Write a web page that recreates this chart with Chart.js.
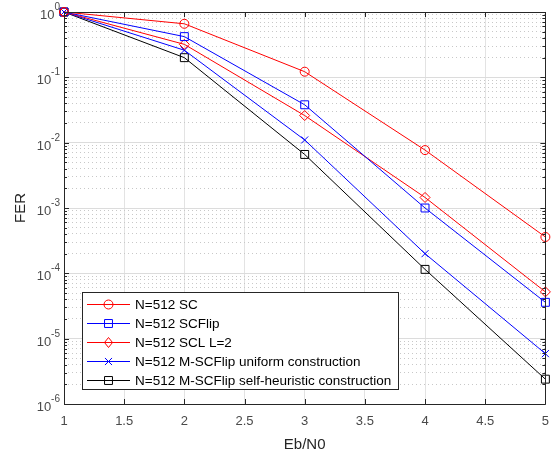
<!DOCTYPE html>
<html>
<head>
<meta charset="utf-8">
<script src="https://cdn.jsdelivr.net/npm/chart.js@4.4.0/dist/chart.umd.min.js"></script>
<style>
  html, body { margin: 0; padding: 0; background: #fff; }
  #wrap { width: 559px; height: 454px; }
</style>
</head>
<body>
<div id="wrap"><canvas id="grafica"></canvas></div>
<script>
'use strict';

// datos
const ebN0 = [1, 2, 3, 4, 5];
const ferSC = [1, 0.66, 0.122, 0.0077, 3.6e-4];
const ferSCFlip = [1, 0.42, 0.038, 1.0e-3, 3.6e-5];
const ferSCL = [1, 0.32, 0.026, 1.45e-3, 5.2e-5];
const ferUniform = [1, 0.26, 0.011, 2.0e-4, 5.9e-6];
const ferSelf = [1, 0.20, 0.0066, 1.15e-4, 2.4e-6];

const nombres = [
    'N=512 SC',
    'N=512 SCFlip',
    'N=512 SCL L=2',
    'N=512 M-SCFlip uniform construction',
    'N=512 M-SCFlip self-heuristic construction'
];
const xTicks = [1, 1.5, 2, 2.5, 3, 3.5, 4, 4.5, 5];
const yExponentes = [-6, -5, -4, -3, -2, -1, 0];

const FUENTE = '"Liberation Sans", Arial, Helvetica, sans-serif';
const EJE = '#262626';
const TEXTO = '#4a4a4a';
const ROJO = '#ff0000';
const AZUL = '#0000ff';
const NEGRO = '#000000';

function serie(label, valores, color, estilo, radio) {
    return {
        label: label,
        data: ebN0.map((x, i) => ({ x: x, y: valores[i] })),
        borderColor: color,
        backgroundColor: 'rgba(0,0,0,0)',
        borderWidth: 1,
        pointStyle: estilo,
        pointRadius: radio,
        pointBorderWidth: 1,
        pointBorderColor: color,
        pointBackgroundColor: 'rgba(0,0,0,0)',
        fill: false,
        tension: 0,
        clip: false
    };
}

// todos los valores 1..9 x 10^k para la rejilla logaritmica
const yRejilla = [];
yExponentes.forEach(e => {
    for (let m = 1; m <= 9; m++) {
        if (e === 0 && m > 1) break;
        yRejilla.push(m * Math.pow(10, e));
    }
});
function esMayor(v) {
    const l = Math.log10(v);
    return Math.abs(l - Math.round(l)) < 1e-9;
}

function dibujarMarcador(ctx, estilo, x, y, r) {
    ctx.beginPath();
    if (estilo === 'circle') {
        ctx.arc(x, y, r, 0, Math.PI * 2);
    } else if (estilo === 'rect') {
        const s = Math.SQRT1_2 * r;
        ctx.rect(x - s, y - s, 2 * s, 2 * s);
    } else if (estilo === 'rectRot') {
        ctx.moveTo(x, y - r);
        ctx.lineTo(x + r * 0.8, y);
        ctx.lineTo(x, y + r);
        ctx.lineTo(x - r * 0.8, y);
        ctx.closePath();
    } else if (estilo === 'crossRot') {
        const s = Math.SQRT1_2 * r;
        ctx.moveTo(x - s, y - s); ctx.lineTo(x + s, y + s);
        ctx.moveTo(x - s, y + s); ctx.lineTo(x + s, y - s);
    }
    ctx.stroke();
}

// marco, marcas interiores, etiquetas 10^k y leyenda
const ejesMatlab = {
    id: 'ejesMatlab',
    afterDatasetsDraw(chart) {
        const { ctx, chartArea: a, scales } = chart;
        const sx = scales.x, sy = scales.y;
        ctx.save();
        ctx.strokeStyle = EJE;
        ctx.lineWidth = 1;
        ctx.beginPath();
        ctx.rect(Math.round(a.left) + 0.5, Math.round(a.top) + 0.5,
                 Math.round(a.right - a.left), Math.round(a.bottom - a.top));
        ctx.stroke();

        ctx.beginPath();
        xTicks.forEach(v => {
            const px = Math.round(sx.getPixelForValue(v)) + 0.5;
            ctx.moveTo(px, a.bottom); ctx.lineTo(px, a.bottom - 5);
            ctx.moveTo(px, a.top); ctx.lineTo(px, a.top + 5);
        });
        yRejilla.forEach(v => {
            const py = Math.round(sy.getPixelForValue(v)) + 0.5;
            const largo = esMayor(v) ? 5 : 3;
            ctx.moveTo(a.left, py); ctx.lineTo(a.left + largo, py);
            ctx.moveTo(a.right, py); ctx.lineTo(a.right - largo, py);
        });
        ctx.stroke();

        ctx.fillStyle = TEXTO;
        ctx.textBaseline = 'alphabetic';
        yExponentes.forEach(e => {
            const py = sy.getPixelForValue(Math.pow(10, e));
            ctx.font = '10px ' + FUENTE;
            const exp = String(e);
            const wExp = ctx.measureText(exp).width;
            ctx.textAlign = 'left';
            const xExp = a.left - 4 - wExp;
            ctx.fillText(exp, xExp, py - 2);
            ctx.font = '13px ' + FUENTE;
            ctx.textAlign = 'right';
            ctx.fillText('10', xExp, py + 7);
        });
        ctx.restore();
    },
    afterDraw(chart) {
        const { ctx } = chart;
        const caja = { x: 82, y: 292, w: 316, h: 97 };
        ctx.save();
        ctx.fillStyle = '#fff';
        ctx.fillRect(caja.x, caja.y, caja.w, caja.h);
        ctx.strokeStyle = EJE;
        ctx.lineWidth = 1;
        ctx.strokeRect(caja.x + 0.5, caja.y + 0.5, caja.w, caja.h);
        ctx.font = '13.5px ' + FUENTE;
        ctx.textBaseline = 'middle';
        ctx.textAlign = 'left';
        chart.data.datasets.forEach((ds, i) => {
            const y = Math.round(caja.y + 12 + i * 19.1) + 0.5;
            ctx.strokeStyle = ds.borderColor;
            ctx.beginPath();
            ctx.moveTo(87, y); ctx.lineTo(130, y);
            ctx.stroke();
            dibujarMarcador(ctx, ds.pointStyle, 108.5, y, ds.pointRadius);
            ctx.fillStyle = '#000';
            ctx.fillText(ds.label, 135, y + 1);
        });
        ctx.restore();
    }
};

new Chart(document.getElementById('grafica').getContext('2d'), {
    type: 'line',
    data: {
        datasets: [
            serie(nombres[0], ferSC, ROJO, 'circle', 4.5),
            serie(nombres[1], ferSCFlip, AZUL, 'rect', 5.6),
            serie(nombres[2], ferSCL, ROJO, 'rectRot', 5),
            serie(nombres[3], ferUniform, AZUL, 'crossRot', 5),
            serie(nombres[4], ferSelf, NEGRO, 'rect', 5.6)
        ]
    },
    options: {
        responsive: true,
        maintainAspectRatio: false,
        animation: false,
        layout: { padding: { top: 12, right: 3, left: 0, bottom: 0 } },
        plugins: { legend: { display: false }, tooltip: { enabled: false } },
        scales: {
            x: {
                type: 'linear',
                min: 1,
                max: 5,
                afterBuildTicks: s => { s.ticks = xTicks.map(v => ({ value: v })); },
                afterFit: s => { s.height = 50; },
                ticks: {
                    color: TEXTO,
                    font: { family: FUENTE, size: 13 },
                    padding: 10,
                    maxRotation: 0,
                    autoSkip: false,
                    callback: v => String(v)
                },
                grid: { color: '#e3e3e3', lineWidth: 1, drawTicks: false },
                border: { display: false },
                title: {
                    display: true,
                    text: 'Eb/N0',
                    color: EJE,
                    font: { family: FUENTE, size: 15 },
                    padding: { top: 0, bottom: 0 }
                }
            },
            y: {
                type: 'logarithmic',
                min: 1e-6,
                max: 1,
                afterBuildTicks: s => { s.ticks = yRejilla.map(v => ({ value: v, major: esMayor(v) })); },
                afterFit: s => { s.width = 64; },
                ticks: { display: true, autoSkip: false, callback: () => '' },
                grid: {
                    drawTicks: false,
                    lineWidth: 1,
                    color: c => (c.tick && esMayor(c.tick.value)) ? '#dcdcdc' : '#c8c8c8'
                },
                border: {
                    display: false,
                    dash: c => (c.tick && esMayor(c.tick.value)) ? [] : [1, 3]
                },
                title: {
                    display: true,
                    text: 'FER',
                    color: EJE,
                    font: { family: FUENTE, size: 15 },
                    padding: { top: 12, bottom: 0 }
                }
            }
        }
    },
    plugins: [ejesMatlab]
});
</script>
</body>
</html>
